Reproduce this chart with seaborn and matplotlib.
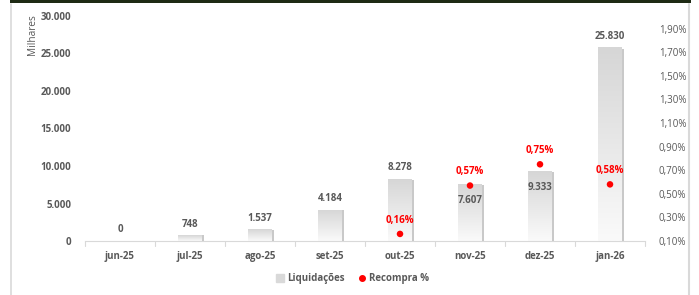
import numpy as np
import pandas as pd
import matplotlib
matplotlib.use("Agg")
import matplotlib.pyplot as plt
import seaborn as sns
from matplotlib.colors import LinearSegmentedColormap
from matplotlib.lines import Line2D
from matplotlib.patches import Rectangle

# ---- data ----
categories = ['jun-25', 'jul-25', 'ago-25', 'set-25', 'out-25', 'nov-25', 'dez-25', 'jan-26']
liquidacoes = [0, 748, 1537, 4184, 8278, 7607, 9333, 25830]
recompra_pct = [np.nan, np.nan, np.nan, np.nan, 0.16, 0.57, 0.75, 0.58]
left_ticks = [0, 5000, 10000, 15000, 20000, 25000, 30000]
right_ticks = [0.10, 0.30, 0.50, 0.70, 0.90, 1.10, 1.30, 1.50, 1.70, 1.90]

df = pd.DataFrame({'mes': categories, 'liq': liquidacoes, 'rec': recompra_pct})

sns.set_theme(style="white")
plt.rcParams['font.family'] = ['Open Sans', 'DejaVu Sans']

GRAY = '#595959'
RED = '#FF0000'
FS = 7.0

fig = plt.figure(figsize=(6.99, 2.95), dpi=100)
ax = fig.add_axes([85/699, (295-241)/295, (645-85)/699, (241-16)/295])

sns.barplot(data=df, x='mes', y='liq', ax=ax, color='#d9d9d9', width=0.33,
            saturation=1, zorder=2)
ax.set_xlim(-0.5, 7.5)
ax.set_ylim(0, 30000)

# gradient fill + shadow
cmap = LinearSegmentedColormap.from_list('g', ['#fafafa', '#d6d6d6'])
grad = np.linspace(0, 1, 100).reshape(-1, 1)
for p in list(ax.patches):
    x, w, h = p.get_x(), p.get_width(), p.get_height()
    if h <= 0:
        continue
    sh = Rectangle((x + w, 0), 0.035, h * 0.99, color='#a6a6a6', alpha=0.6, zorder=1, lw=0)
    ax.add_patch(sh)
    p.set_facecolor('none')
    p.set_edgecolor('none')
    im = ax.imshow(grad, extent=[x, x + w, 0, h], origin='lower', aspect='auto',
                   cmap=cmap, zorder=2)
    im.set_clip_path(p)
ax.set_xlim(-0.5, 7.5)
ax.set_ylim(0, 30000)

# value labels
inside = {5, 6}
for i, v in enumerate(liquidacoes):
    lab = f"{v:,}".replace(',', '.')
    off = -12 if i in inside else 8
    ax.annotate(lab, (i, v), xytext=(0, off), textcoords='offset points',
                ha='center', va='center', fontsize=FS, fontweight='bold', color=GRAY, zorder=5)

# axes styling
for s in ['top', 'right', 'left']:
    ax.spines[s].set_visible(False)
ax.spines['bottom'].set_color('#d9d9d9')
ax.spines['bottom'].set_linewidth(0.8)
ax.set_yticks(left_ticks)
ax.set_yticklabels([f"{t:,}".replace(',', '.') for t in left_ticks],
                   fontsize=FS, fontweight='bold', color=GRAY)
ax.tick_params(axis='y', length=0, pad=10)
ax.set_xticks(range(len(categories)))
ax.set_xticklabels(categories, fontsize=FS, fontweight='bold', color=GRAY)
ax.tick_params(axis='x', length=0, pad=7)
for b in np.arange(-0.5, 8.0, 1.0):
    ax.plot([b, b], [0, -700], color='#d9d9d9', lw=0.8, clip_on=False, zorder=1)
ax.set_xlabel('')
ax.set_ylabel('')
fig.text(33/699, 1 - 35/295, 'Milhares', rotation=90, ha='center', va='center',
         fontsize=7.2, color=GRAY)

# secondary axis
ax2 = ax.twinx()
sns.scatterplot(data=df, x='mes', y='rec', ax=ax2, color=RED, s=22, edgecolor='none', zorder=4)
ax2.set_ylim(0.10, 2.007)
ax2.set_xlim(-0.5, 7.5)
ax2.set_yticks(right_ticks)
ax2.set_yticklabels([f"{t:.2f}".replace('.', ',') + '%' for t in right_ticks],
                    fontsize=FS, color=GRAY)
ax2.tick_params(axis='y', length=0, pad=10)
ax2.set_ylabel('')
for s in ax2.spines.values():
    s.set_visible(False)
for i, v in enumerate(recompra_pct):
    if not np.isnan(v):
        ax2.annotate(f"{v:.2f}".replace('.', ',') + '%', (i, v), xytext=(0, 10),
                     textcoords='offset points', ha='center', va='center',
                     fontsize=FS, fontweight='bold', color=RED, zorder=5)

# legend
handles = [Line2D([], [], marker='s', ls='', color='#d9d9d9', markersize=5.5),
           Line2D([], [], marker='o', ls='', color=RED, markersize=4)]
leg = fig.legend(handles, ['Liquidações', 'Recompra %'], loc='center',
                 bbox_to_anchor=(352/699, 1 - 279/295), ncol=2, frameon=False,
                 handletextpad=0.2, columnspacing=1.3, handlelength=1.0,
                 prop={'size': FS, 'weight': 'bold'})
for t in leg.get_texts():
    t.set_color(GRAY)

# frame decorations (chart border + top strip)
fig.add_artist(Line2D([11/699, 11/699], [0, 1 - 4/295], transform=fig.transFigure,
                      color='#d9d9d9', lw=1.2))
fig.add_artist(Line2D([689/699, 689/699], [0, 1 - 4/295], transform=fig.transFigure,
                      color='#d9d9d9', lw=1.5))
fig.add_artist(Rectangle((10/699, 1 - 3/295), 681/699, 3/295, transform=fig.transFigure,
                         color='#1e2a14', lw=0))

fig.savefig('out.png', dpi=100)
